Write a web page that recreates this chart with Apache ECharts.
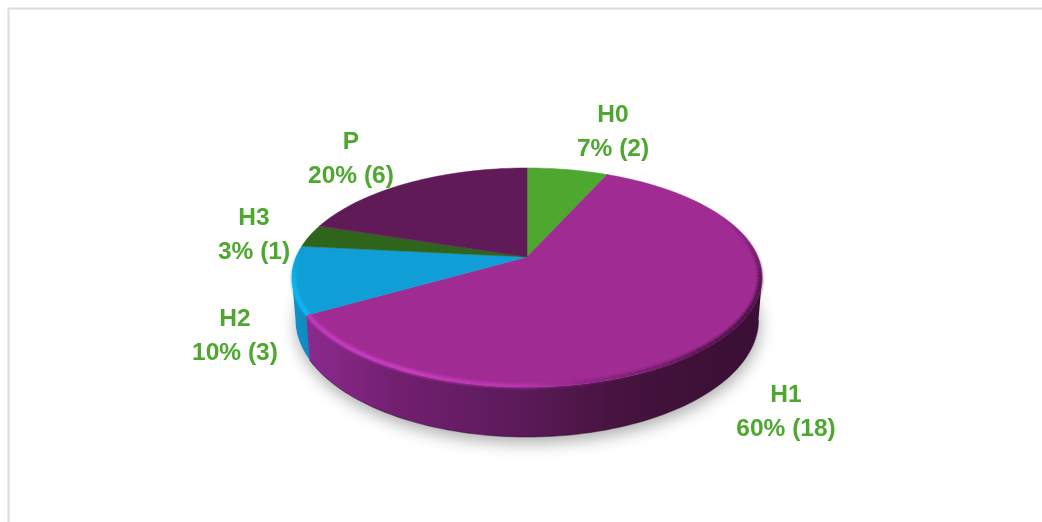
<!DOCTYPE html>
<html>
<head>
<meta charset="utf-8">
<style>html,body{margin:0;padding:0;background:#fff}#chart{width:1042px;height:522px}</style>
<script src="https://cdn.jsdelivr.net/npm/echarts@6/dist/echarts.min.js"></script>
</head>
<body>
<div id="chart"></div>
<script>
// Hypothesis classes and how many items fall in each
const categories = ['H0', 'H1', 'H2', 'H3', 'P'];
const counts = [2, 18, 3, 1, 6];

// Slice appearance, in the same order as the categories
const topColors = ['#4EA72E', '#A02B93', '#0F9ED5', '#2F641C', '#601A58'];
const labelCentres = [[613, 132], [786, 412], [235, 336], [254, 235], [351, 159]];

// Perspective disc: centre point, half-axes, foreshortening and wall height
const disc = { cx: 527, cy: 257, ax: 230.9, ay: 105.7, k: 0.1872, wall: 40.6, bottomScale: 0.985 };
// Angles where the rim turns away from the viewer; walls are only visible between them
const wallFrom = 100.8, wallTo = 259.2;
const total = counts.reduce((a, b) => a + b, 0);
const toRad = Math.PI / 180;

// Angles run clockwise from twelve o'clock
function topPoint(deg, r) {
  r = r === undefined ? 1 : r;
  const u = Math.sin(deg * toRad) * r, v = -Math.cos(deg * toRad) * r;
  const d = 1 - disc.k * v;
  return [disc.cx + disc.ax * u / d, disc.cy + disc.ay * v / d];
}
function bottomPoint(deg) {
  const u = Math.sin(deg * toRad), v = -Math.cos(deg * toRad);
  const d = 1 - disc.k * v;
  return [disc.cx + disc.bottomScale * disc.ax * u / d, disc.cy + disc.ay * v / d + disc.wall / d];
}
function arc(fn, a, b, step) {
  const pts = [], n = Math.max(2, Math.ceil(Math.abs(b - a) / (step || 1.5)));
  for (let i = 0; i <= n; i++) pts.push(fn(a + (b - a) * i / n));
  return pts;
}
function sliceRange(i) {
  let before = 0;
  for (let j = 0; j < i; j++) before += counts[j];
  return [before / total * 360, (before + counts[i]) / total * 360];
}
function grad(x0, x1, stops) {
  return new echarts.graphic.LinearGradient(x0, 0, x1, 0, stops.map(s => ({ offset: s[0], color: s[1] })), true);
}

// Rim shading per slice: [angle, red, green, blue, alpha], interpolated along the arc
const rimShades = {
  1: [[68, 58, 15, 54, 0], [90, 58, 15, 54, .35], [106, 59, 15, 54, .85], [120, 59, 15, 54, 1], [140, 70, 18, 66, .85],
      [163, 115, 30, 108, .5], [180, 190, 58, 182, .75], [205, 208, 66, 202, 1], [240, 200, 62, 196, .95]],
  2: [[240, 18, 190, 252, .95], [256, 18, 186, 250, .9], [268, 18, 176, 240, .35], [276, 18, 176, 240, 0]]
};
function shadeAt(stops, deg) {
  for (let i = 0; i < stops.length - 1; i++) {
    const a = stops[i], b = stops[i + 1];
    if (deg >= a[0] && deg <= b[0]) {
      const t = (deg - a[0]) / (b[0] - a[0]);
      return [1, 2, 3, 4].map(c => a[c] + (b[c] - a[c]) * t);
    }
  }
  return null;
}
function rimSegments(i, from, to) {
  const stops = rimShades[i], out = [];
  if (!stops) return out;
  const a0 = Math.max(from, stops[0][0]), a1 = Math.min(to, stops[stops.length - 1][0]);
  [[8, .993, .22], [5, .993, .36], [3, .993, .5]].forEach(layer => {
    for (let d = a0; d < a1; d += 2) {
      const s = shadeAt(stops, d + 1);
      out.push({
        type: 'polyline', z2: 4, silent: true,
        shape: { points: [topPoint(d, layer[1]), topPoint(Math.min(d + 2.1, a1), layer[1])] },
        style: { fill: null, stroke: `rgba(${s[0] | 0},${s[1] | 0},${s[2] | 0},${s[3] * layer[2]})`, lineWidth: layer[0] }
      });
    }
  });
  return out;
}

function wallFill(i) {
  if (i === 1) {
    return grad(306, 762, [[0, '#8C2A8E'], [.2, '#721F70'], [.48, '#5A1A58'], [.68, '#47133F'], [.85, '#3E1038'], [1, '#3A0F35']]);
  }
  return grad(292, 312, [[0, '#1192C9'], [1, '#0F88BC']]);
}

function renderSlice(params, api) {
  const i = params.dataIndex;
  const range = sliceRange(i), from = range[0], to = range[1];
  const children = [];

  // Soft ground shadow under the whole disc, added once
  if (i === 0) {
    children.push({
      type: 'polygon', z2: 0, silent: true,
      shape: { points: arc(bottomPoint, 0, 360, 2) },
      style: { fill: '#ffffff', shadowBlur: 16, shadowColor: 'rgba(0,0,0,0.32)', shadowOffsetY: 6, shadowOffsetX: 1 }
    });
  }

  // Outer wall, clipped to the front-facing arc; the blue one tucks under its neighbour
  const wallStart = Math.max(from, wallFrom) - (i === 2 ? 3 : 0);
  const wallEnd = Math.min(to, wallTo);
  if (wallEnd > wallStart) {
    const pts = arc(topPoint, wallStart, wallEnd).concat(arc(bottomPoint, wallEnd, wallStart));
    children.push({
      type: 'polygon', z2: i === 2 ? 1 : 2, silent: true,
      shape: { points: pts },
      style: { fill: wallFill(i), stroke: null }
    });
    if (i === 1) {
      children.push({
        type: 'polyline', z2: 2, silent: true,
        shape: { points: arc(bottomPoint, wallStart, wallEnd) },
        style: { fill: null, stroke: 'rgba(30,5,30,0.5)', lineWidth: 1 }
      });
    }
  }

  // Top face
  const top = [[disc.cx, disc.cy]].concat(arc(topPoint, from, to));
  children.push({
    type: 'polygon', z2: 3,
    shape: { points: top },
    style: { fill: topColors[i], stroke: topColors[i], lineWidth: 0.5 }
  });
  rimSegments(i, from, to).forEach(s => children.push(s));

  // Category label with share and count
  const v = api.value(0);
  const c = labelCentres[i];
  children.push({
    type: 'text', z2: 6, silent: true,
    style: {
      x: c[0], y: c[1], align: 'center', verticalAlign: 'middle',
      text: categories[i] + '\n' + Math.round(v / total * 100) + '% (' + v + ')',
      fill: '#4EA72E', font: 'bold 24.5px "Liberation Sans", Arial, sans-serif', lineHeight: 33.5
    }
  });
  return { type: 'group', children: children };
}

const chart = echarts.init(document.getElementById('chart'), null, { renderer: 'canvas' });
chart.setOption({
  animation: false,
  backgroundColor: '#ffffff',
  graphic: [
    { type: 'line', silent: true, shape: { x1: 8, y1: 8.5, x2: 1042, y2: 8.5 }, style: { stroke: '#dcdcdc', lineWidth: 2 } },
    { type: 'line', silent: true, shape: { x1: 8.5, y1: 8, x2: 8.5, y2: 522 }, style: { stroke: '#dcdcdc', lineWidth: 2 } }
  ],
  series: [{
    type: 'custom',
    coordinateSystem: 'none',
    renderItem: renderSlice,
    data: counts.map((v, i) => ({ name: categories[i], value: [v] }))
  }]
});
</script>
</body>
</html>
